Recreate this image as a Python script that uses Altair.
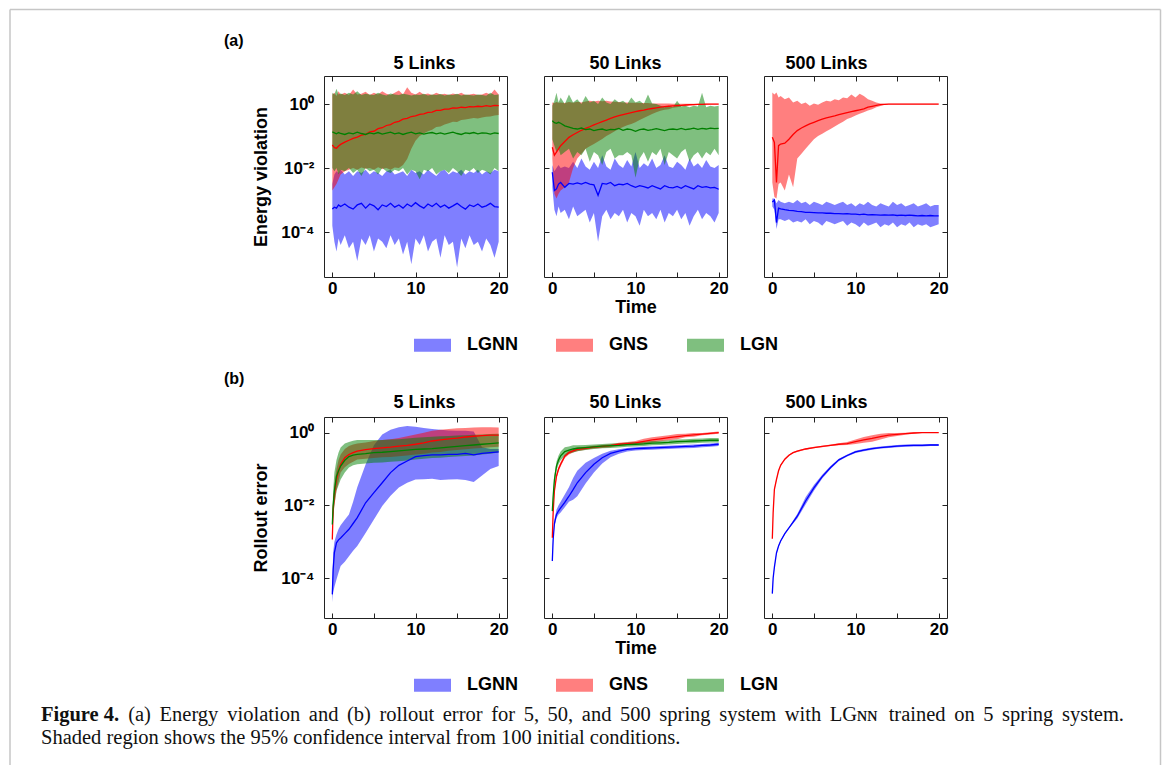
import altair as alt
import pandas as pd

FONT = "Liberation Sans"
SERIF = "Liberation Serif"
AX = "#222222"
FRAME = "#c6c6c6"
MODELS = ["LGNN", "GNS", "LGN"]
COL = {"LGNN": "#0000ff", "GNS": "#ff0000", "LGN": "#008000"}
PANEL_TITLES = ["5 Links", "50 Links", "500 Links"]
TITLE_DX = [9, -10, -29]
X_TICKS = [0, 5, 10, 15, 20]
Y_TICKS = [1, 0.01, 0.0001]
LEGEND_SYMBOL = "M-1,-0.35H1V0.35H-1Z"
W, H, GAP, ROWGAP, TICK = 183, 201, 37, 140, 5
TOP_YDOM = [10 ** -5.4, 10 ** 0.875]
BOT_YDOM = [10 ** -5.1, 10 ** 0.43]

# ---------------- time grids ----------------
T_TOP = [0, 0.25, 0.5, 0.75, 1, 1.5, 2, 2.5, 3, 3.5, 4, 4.5, 5, 5.5, 6, 6.5, 7, 7.5,
         8, 8.5, 9, 9.5, 10, 10.5, 11, 11.5, 12, 12.5, 13, 13.5, 14, 14.5, 15, 15.5,
         16, 16.5, 17, 17.5, 18, 18.5, 19, 19.5, 20]
T_BOT = [0, 0.1, 0.25, 0.5, 0.75, 1, 1.5, 2, 2.5, 3, 4, 5, 6, 7, 8, 9, 10, 11, 12,
         13, 14, 15, 16, 17, 18, 19, 20]

# ---------------- (a) energy violation, log10 values ----------------
A1_LGNN_LO = [-3.8, -4.3, -4.6, -4.2, -4.4,
              -4.1, -4.5, -4.3, -4.9, -4.2, -4.4,
              -4.1, -4.6, -4.2, -4.3, -4.5, -4.1,
              -4.4, -4.2, -4.7, -4.3, -5.0, -4.2,
              -4.4, -4.1, -4.6, -4.3, -4.2, -4.8,
              -4.1, -4.4, -4.3, -5.1, -4.2, -4.5,
              -4.1, -4.4, -4.3, -4.6, -4.2, -4.4,
              -4.8, -4.3]
A1_LGNN_MID = [-3.28, -3.22, -3.25, -3.15, -3.2,
               -3.12, -3.22, -3.28, -3.15, -3.1, -3.25,
               -3.12, -3.18, -3.3, -3.15, -3.2, -3.1,
               -3.22, -3.15, -3.25, -3.12, -3.2, -3.08,
               -3.18, -3.25, -3.12, -3.2, -3.1, -3.22,
               -3.15, -3.25, -3.18, -3.1, -3.2, -3.28,
               -3.15, -3.2, -3.12, -3.22, -3.18, -3.1,
               -3.2, -3.22]
A1_LGNN_HI = [-2.5, -2.2, -2.1, -2.15, -2.05,
              -2.2, -2.1, -2.25, -2.1, -2.15, -2.05,
              -2.2, -2.1, -2.15, -2.25, -2.1, -2.05,
              -2.2, -2.15, -2.1, -2.25, -2.05, -2.15,
              -2.1, -2.2, -2.05, -2.15, -2.25, -2.1,
              -2.05, -2.2, -2.1, -2.15, -2.05, -2.2,
              -2.1, -2.15, -2.05, -2.2, -2.1, -2.15,
              -2.05, -2.1]
A1_GNS_LO = [-2.7, -2.6, -2.5, -2.35, -2.2,
             -2.1, -2.05, -2.0, -2.05, -1.98, -2.02,
             -2.0, -2.05, -1.97, -2.03, -2.0, -2.05,
             -1.98, -2.0, -1.9, -1.72, -1.4, -1.15,
             -1.0, -0.92, -0.85, -0.8, -0.72, -0.7,
             -0.64, -0.6, -0.55, -0.56, -0.5, -0.48,
             -0.46, -0.44, -0.45, -0.42, -0.4, -0.39,
             -0.36, -0.34]
A1_GNS_MID = [-1.28, -1.36, -1.38, -1.31, -1.26,
              -1.19, -1.13, -1.07, -1.03, -0.97, -0.95,
              -0.87, -0.85, -0.77, -0.74, -0.67, -0.64,
              -0.57, -0.54, -0.47, -0.45, -0.39, -0.37,
              -0.32, -0.31, -0.26, -0.25, -0.2, -0.2,
              -0.16, -0.16, -0.12, -0.13, -0.1, -0.11,
              -0.08, -0.09, -0.07, -0.08, -0.05, -0.07,
              -0.04, -0.05]
A1_GNS_HI = [0.3, 0.35, 0.25, 0.4, 0.3,
             0.35, 0.28, 0.45, 0.3, 0.32, 0.38,
             0.28, 0.35, 0.3, 0.4, 0.32, 0.28,
             0.35, 0.42, 0.3, 0.52, 0.35, 0.3,
             0.38, 0.3, 0.33, 0.28, 0.35, 0.3,
             0.32, 0.28, 0.33, 0.3, 0.35, 0.28,
             0.3, 0.32, 0.28, 0.3, 0.35, 0.3,
             0.45, 0.3]
A1_LGN_LO = [-2.0, -2.1, -2.0, -2.2, -2.05,
             -2.1, -2.0, -2.15, -2.05, -2.25, -2.0,
             -2.1, -2.05, -2.2, -2.0, -2.1, -2.15,
             -2.05, -2.1, -2.0, -2.2, -2.05, -2.1,
             -2.35, -2.05, -2.1, -2.0, -2.2, -2.1,
             -2.05, -2.15, -2.0, -2.1, -2.25, -2.05,
             -2.1, -2.0, -2.15, -2.05, -2.1, -2.2,
             -2.0, -2.1]
A1_LGN_MID = [-0.87, -0.9, -0.93, -0.89, -0.92,
              -0.95, -0.9, -0.93, -0.88, -0.92, -0.95,
              -0.9, -0.93, -0.89, -0.94, -0.91, -0.88,
              -0.93, -0.9, -0.95, -0.91, -0.88, -0.93,
              -0.9, -0.94, -0.91, -0.89, -0.93, -0.9,
              -0.94, -0.91, -0.88, -0.92, -0.95, -0.9,
              -0.92, -0.89, -0.93, -0.9, -0.91, -0.94,
              -0.9, -0.92]
A1_LGN_HI = [0.35, 0.3, 0.48, 0.3, 0.33,
             0.28, 0.35, 0.3, 0.4, 0.28, 0.32,
             0.3, 0.28, 0.35, 0.3, 0.27, 0.33,
             0.3, 0.28, 0.32, 0.3, 0.27, 0.3,
             0.28, 0.32, 0.27, 0.3, 0.28, 0.31,
             0.27, 0.3, 0.28, 0.32, 0.27, 0.3,
             0.28, 0.27, 0.3, 0.28, 0.26, 0.35,
             0.28, 0.3]

A2_LGNN_LO = [-2.6, -3.3, -3.5, -3.2, -3.4,
              -3.3, -3.6, -3.2, -3.5, -3.4, -3.3,
              -3.7, -3.4, -4.3, -3.5, -3.3, -3.6,
              -3.4, -3.5, -3.3, -3.7, -3.4, -3.5,
              -3.8, -3.3, -3.5, -3.4, -3.6, -3.3,
              -3.7, -3.4, -3.5, -3.3, -3.6, -3.4,
              -3.8, -3.5, -3.3, -3.6, -3.4, -3.5,
              -3.7, -3.4]
A2_LGNN_MID = [-2.13, -2.7, -2.65, -2.5, -2.45,
               -2.6, -2.48, -2.5, -2.46, -2.5, -2.45,
               -2.5, -2.52, -2.85, -2.48, -2.5, -2.45,
               -2.55, -2.5, -2.52, -2.48, -2.55, -2.6,
               -2.55, -2.58, -2.62, -2.55, -2.6, -2.65,
               -2.55, -2.6, -2.62, -2.57, -2.63, -2.55,
               -2.6, -2.65, -2.55, -2.6, -2.58, -2.62,
               -2.6, -2.66]
A2_LGNN_HI = [-1.9, -2.1, -2.0, -1.9, -2.0,
              -1.95, -2.0, -1.8, -2.0, -1.7, -1.95,
              -2.05, -1.8, -2.0, -1.6, -1.95, -2.05,
              -1.7, -1.9, -2.0, -1.75, -1.95, -1.5,
              -2.0, -1.85, -1.95, -1.7, -2.0, -1.9,
              -1.6, -1.95, -2.0, -1.8, -1.9, -2.05,
              -1.7, -1.95, -1.85, -2.0, -1.75, -1.95,
              -2.0, -1.9]
A2_GNS_LO = [-1.7, -2.8, -2.95, -2.8, -2.7,
             -2.6, -2.45, -2.0, -1.7, -1.55, -1.4,
             -1.32, -1.25, -1.17, -1.09, -1.0, -0.93,
             -0.85, -0.78, -0.72, -0.66, -0.62, -0.57,
             -0.5, -0.44, -0.37, -0.31, -0.26, -0.21,
             -0.18, -0.16, -0.12, -0.1, -0.08, -0.07,
             -0.05, -0.04, -0.03, -0.02, -0.02, -0.01,
             -0.01, -0.01]
A2_GNS_MID = [-1.35, -1.6, -1.5, -1.4, -1.3,
              -1.17, -1.04, -0.96, -0.89, -0.82, -0.76,
              -0.71, -0.65, -0.6, -0.55, -0.5, -0.45,
              -0.4, -0.36, -0.33, -0.3, -0.27, -0.24,
              -0.21, -0.19, -0.16, -0.14, -0.12, -0.1,
              -0.08, -0.07, -0.06, -0.05, -0.04, -0.03,
              -0.02, -0.02, -0.01, -0.01, 0.0, 0.0,
              0.0, 0.0]
A2_GNS_HI = [0.05, 0.03, 0.06, 0.04, 0.05,
             0.03, 0.06, 0.04, 0.07, 0.05, 0.08,
             0.1, 0.08, 0.1, 0.09, 0.1, 0.08,
             0.07, 0.06, 0.05, 0.05, 0.04, 0.04,
             0.03, 0.03, 0.03, 0.02, 0.02, 0.02,
             0.02, 0.02, 0.01, 0.01, 0.01, 0.01,
             0.01, 0.01, 0.01, 0.01, 0.01, 0.01,
             0.01, 0.01]
A2_LGN_LO = [-1.1, -1.3, -1.5, -1.4, -1.6,
             -1.5, -1.4, -1.7, -1.5, -1.6, -1.4,
             -1.8, -1.5, -1.6, -1.9, -1.5, -1.4,
             -1.7, -1.6, -1.6, -1.5, -1.6, -2.3,
             -1.7, -1.5, -1.8, -1.5, -1.6, -1.4,
             -1.9, -1.5, -1.6, -1.7, -1.5, -1.4,
             -1.8, -1.6, -1.5, -1.7, -1.5, -1.6,
             -1.4, -1.6]
A2_LGN_MID = [-0.52, -0.58, -0.6, -0.57, -0.6,
              -0.68, -0.72, -0.76, -0.78, -0.75, -0.8,
              -0.78, -0.83, -0.8, -0.78, -0.82, -0.79,
              -0.8, -0.76, -0.82, -0.78, -0.8, -0.85,
              -0.8, -0.78, -0.82, -0.8, -0.77, -0.8,
              -0.83, -0.79, -0.78, -0.8, -0.76, -0.8,
              -0.78, -0.75, -0.79, -0.76, -0.78, -0.75,
              -0.77, -0.76]
A2_LGN_HI = [-0.05, 0.1, 0.35, 0.05, 0.2,
             0.0, 0.3, 0.05, 0.15, 0.0, 0.25,
             0.05, 0.1, 0.0, 0.2, 0.05, 0.0,
             0.15, 0.05, 0.1, 0.0, 0.2, 0.05,
             0.1, 0.0, 0.3, 0.02, 0.0, -0.05,
             -0.1, -0.05, -0.1, 0.1, -0.08, -0.05,
             -0.1, -0.05, -0.08, 0.35, -0.1, -0.05,
             -0.08, -0.05]

A3_LGNN_LO = [-3.2, -3.3, -3.9, -3.6, -3.6,
              -3.65, -3.6, -3.7, -3.65, -3.7, -3.6,
              -3.75, -3.65, -3.7, -3.8, -3.65, -3.7,
              -3.75, -3.7, -3.65, -3.8, -3.7, -3.75,
              -3.85, -3.7, -3.8, -3.75, -3.7, -3.85,
              -3.75, -3.8, -3.7, -3.85, -3.75, -3.8,
              -3.7, -3.85, -3.75, -3.8, -3.75, -3.85,
              -3.8, -3.75]
A3_LGNN_MID = [-3.06, -3.0, -3.7, -3.25, -3.27,
               -3.3, -3.32, -3.33, -3.35, -3.36, -3.38,
               -3.38, -3.39, -3.4, -3.4, -3.41, -3.41,
               -3.42, -3.42, -3.43, -3.42, -3.44, -3.44,
               -3.45, -3.44, -3.46, -3.45, -3.46, -3.47,
               -3.46, -3.47, -3.46, -3.48, -3.47, -3.48,
               -3.47, -3.48, -3.49, -3.48, -3.49, -3.48,
               -3.49, -3.49]
A3_LGNN_HI = [-2.95, -2.95, -3.1, -3.0, -3.05,
              -3.1, -3.05, -3.1, -3.0, -3.1, -3.05,
              -3.15, -3.05, -3.1, -3.15, -3.05, -3.1,
              -3.15, -3.1, -3.05, -3.15, -3.1, -3.2,
              -3.1, -3.15, -3.05, -3.15, -3.2, -3.1,
              -3.15, -3.2, -3.05, -3.15, -3.1, -3.2,
              -3.15, -3.1, -3.2, -3.15, -3.1, -3.2,
              -3.15, -3.15]
A3_GNS_LO = [-2.45, -2.9, -2.95, -2.5, -2.45,
             -2.7, -2.2, -2.6, -1.7, -1.55, -1.4,
             -1.25, -1.1, -1.0, -0.93, -0.85, -0.78,
             -0.7, -0.62, -0.55, -0.47, -0.42, -0.36,
             -0.3, -0.26, -0.2, -0.16, -0.1, -0.06,
             -0.02, -0.01, -0.01, -0.01, -0.01, -0.01,
             -0.01, -0.01, -0.01, -0.01, -0.01, -0.01,
             -0.01, -0.01]
A3_GNS_MID = [-1.04, -1.2, -2.45, -1.3, -1.25,
              -1.22, -1.1, -0.95, -0.83, -0.75, -0.68,
              -0.62, -0.57, -0.52, -0.47, -0.43, -0.4,
              -0.37, -0.33, -0.3, -0.27, -0.24, -0.21,
              -0.18, -0.15, -0.1, -0.07, -0.04, -0.02,
              -0.01, 0.0, 0.0, 0.0, 0.0, 0.0,
              0.0, 0.0, 0.0, 0.0, 0.0, 0.0,
              0.0, 0.0]
A3_GNS_HI = [0.36, 0.3, 0.36, 0.2, 0.25,
             0.15, 0.2, 0.05, 0.1, 0.0, 0.05,
             -0.05, 0.02, -0.02, 0.05, 0.1, 0.08,
             0.15, 0.12, 0.2, 0.18, 0.3, 0.2,
             0.32, 0.25, 0.15, 0.1, 0.05, 0.02,
             0.01, 0.01, 0.01, 0.01, 0.01, 0.01,
             0.01, 0.01, 0.01, 0.01, 0.01, 0.01,
             0.01, 0.01]

# ---------------- (b) rollout error, log10 values ----------------
B1_LGNN_LO = [-4.67, -4.4, -4.25, -4.04, -3.85, -3.67, -3.55, -3.4, -3.25, -3.12,
              -2.76, -2.39, -2.02, -1.74, -1.51, -1.38, -1.29,
              -1.28, -1.27, -1.3, -1.29, -1.28, -1.3, -1.36, -1.18, -1.0, -0.92]
B1_LGNN_MID = [-4.45, -3.76, -3.3, -3.03, -2.95, -2.9, -2.78, -2.66, -2.5, -2.34,
               -1.93, -1.65, -1.38, -1.1, -0.9, -0.78, -0.66,
               -0.63, -0.61, -0.61, -0.6, -0.6, -0.57, -0.61, -0.57, -0.55, -0.53]
B1_LGNN_HI = [-4.2, -3.3, -3.0, -2.8, -2.65, -2.55, -2.4, -2.25, -1.9, -1.5,
              -0.88, -0.35, -0.05, 0.08, 0.15, 0.18, 0.16,
              0.13, 0.1, 0.08, 0.06, 0.05, 0.05, 0.03, -0.4, -0.45, -0.45]
B1_GNS_LO = [-3.05, -2.4, -2.0, -1.6, -1.35, -1.1, -0.95, -0.86, -0.8, -0.74,
             -0.72, -0.7, -0.68, -0.67, -0.65, -0.63, -0.6,
             -0.58, -0.55, -0.53, -0.5, -0.48, -0.46, -0.44, -0.42, -0.4, -0.39]
B1_GNS_MID = [-2.94, -2.11, -1.7, -1.29, -1.05, -0.87, -0.69, -0.6, -0.55, -0.51,
              -0.47, -0.44, -0.42, -0.4, -0.37, -0.35, -0.32,
              -0.28, -0.23, -0.2, -0.17, -0.15, -0.12, -0.1, -0.08, -0.07, -0.07]
B1_GNS_HI = [-2.85, -1.9, -1.45, -1.0, -0.75, -0.6, -0.45, -0.37, -0.33, -0.3,
             -0.27, -0.23, -0.2, -0.18, -0.15, -0.1, -0.05,
             0.0, 0.05, 0.08, 0.1, 0.12, 0.13, 0.14, 0.15, 0.15, 0.14]
B1_LGN_LO = [-2.6, -2.3, -2.0, -1.6, -1.45, -1.29, -1.1, -0.96, -0.9, -0.87,
             -0.85, -0.83, -0.82, -0.8, -0.79, -0.77, -0.74,
             -0.72, -0.7, -0.69, -0.67, -0.66, -0.64, -0.63, -0.6, -0.58, -0.55]
B1_LGN_MID = [-2.53, -2.0, -1.6, -1.2, -1.05, -0.92, -0.76, -0.66, -0.62, -0.6,
              -0.58, -0.55, -0.54, -0.52, -0.5, -0.48, -0.46,
              -0.45, -0.44, -0.42, -0.4, -0.38, -0.36, -0.34, -0.32, -0.3, -0.28]
B1_LGN_HI = [-2.3, -1.6, -1.1, -0.75, -0.55, -0.41, -0.3, -0.26, -0.22, -0.2,
             -0.2, -0.2, -0.2, -0.19, -0.18, -0.16, -0.14,
             -0.13, -0.11, -0.1, -0.09, -0.08, -0.07, -0.06, -0.05, -0.04, -0.03]

B2_LGNN_LO = [-3.6, -3.0, -2.6, -2.35, -2.25, -2.2, -2.05, -1.9, -1.85, -1.75,
              -1.4, -1.1, -0.85, -0.68, -0.58, -0.52, -0.49,
              -0.48, -0.47, -0.46, -0.45, -0.44, -0.43, -0.42, -0.4, -0.39, -0.37]
B2_LGNN_MID = [-3.53, -2.94, -2.5, -2.25, -2.15, -2.07, -1.92, -1.75, -1.57, -1.38,
               -1.1, -0.87, -0.69, -0.57, -0.51, -0.46, -0.44,
               -0.43, -0.42, -0.41, -0.4, -0.39, -0.38, -0.37, -0.35, -0.34, -0.32]
B2_LGNN_HI = [-3.45, -2.85, -2.4, -2.12, -2.0, -1.9, -1.7, -1.5, -1.25, -1.05,
              -0.83, -0.7, -0.58, -0.5, -0.46, -0.42, -0.4,
              -0.39, -0.38, -0.37, -0.36, -0.35, -0.34, -0.33, -0.31, -0.3, -0.28]
B2_GNS_MID = [-2.89, -2.2, -1.6, -1.2, -1.0, -0.87, -0.65, -0.55, -0.5, -0.46,
              -0.43, -0.4, -0.38, -0.36, -0.32, -0.3, -0.28,
              -0.24, -0.2, -0.17, -0.14, -0.11, -0.08, -0.06, -0.04, -0.02, 0.0]
B2_GNS_W = [0.03, 0.06, 0.06, 0.06, 0.06, 0.06, 0.05, 0.05, 0.05, 0.05,
            0.04, 0.04, 0.04, 0.04, 0.04, 0.04, 0.05,
            0.07, 0.07, 0.07, 0.07, 0.07, 0.05, 0.05, 0.03, 0.03, 0.03]
B2_LGN_MID = [-2.16, -1.75, -1.3, -0.92, -0.75, -0.64, -0.52, -0.48, -0.45, -0.43,
              -0.41, -0.39, -0.37, -0.36, -0.35, -0.33, -0.32,
              -0.31, -0.29, -0.28, -0.27, -0.25, -0.24, -0.23, -0.22, -0.21, -0.21]
B2_LGN_W = [0.04, 0.1, 0.12, 0.12, 0.12, 0.12, 0.12, 0.1, 0.1, 0.08,
            0.07, 0.06, 0.06, 0.06, 0.06, 0.06, 0.06,
            0.06, 0.06, 0.06, 0.06, 0.06, 0.06, 0.06, 0.06, 0.06, 0.06]

B3_LGNN_MID = [-4.43, -4.0, -3.7, -3.31, -3.12, -2.98, -2.78, -2.62, -2.46, -2.3,
               -1.88, -1.52, -1.21, -0.96, -0.75, -0.63, -0.53,
               -0.48, -0.44, -0.41, -0.39, -0.37, -0.36, -0.35, -0.35, -0.34, -0.34]
B3_LGNN_W = [0.02, 0.02, 0.02, 0.02, 0.02, 0.02, 0.02, 0.02, 0.04, 0.06,
             0.1, 0.08, 0.05, 0.04, 0.03, 0.03, 0.03,
             0.03, 0.03, 0.03, 0.03, 0.03, 0.03, 0.03, 0.03, 0.03, 0.03]
B3_GNS_MID = [-2.92, -2.2, -1.56, -1.29, -1.05, -0.9, -0.73, -0.62, -0.55, -0.51,
              -0.45, -0.41, -0.38, -0.35, -0.32, -0.3, -0.25,
              -0.2, -0.16, -0.11, -0.07, -0.05, -0.03, -0.01, 0.0, 0.0, 0.0]
B3_GNS_W = [0.02, 0.02, 0.02, 0.02, 0.02, 0.02, 0.02, 0.02, 0.02, 0.02,
            0.02, 0.02, 0.02, 0.02, 0.03, 0.04, 0.06,
            0.08, 0.09, 0.08, 0.06, 0.04, 0.03, 0.02, 0.01, 0.01, 0.01]

# ---------------- caption ----------------
CAPTION_BOLD = "Figure 4."
CAPTION_1 = ("(a) Energy violation and (b) rollout error for 5, 50, and 500 spring system "
             "with LG\u0274\u0274 trained on 5 spring system.")
CAPTION_2 = "Shaded region shows the 95% confidence interval from 100 initial conditions."
CAP_X0, CAP_X1, CAP_Y1, CAP_Y2, CAP_SIZE = 40, 1123, 715.5, 738.5, 20.5

# Times-compatible advance widths (per 1000 em) used to justify caption line 1
SERIF_W = {" ": 250, "(": 333, ")": 333, ",": 250, ".": 250, "%": 833,
           "a": 444, "b": 500, "c": 444, "d": 500, "e": 444, "f": 333, "g": 500,
           "h": 500, "i": 278, "l": 278, "m": 778, "n": 500, "o": 500, "p": 500,
           "r": 333, "s": 389, "t": 278, "u": 500, "v": 500, "w": 722, "y": 500,
           "E": 611, "G": 722, "L": 611, "S": 556, "\u0274": 560}
SERIF_BOLD_W = {" ": 250, ".": 250, "F": 611, "i": 278, "g": 500, "u": 556, "r": 444, "e": 444}


def text_w(s, table):
    return sum(table.get(c, 500) for c in s) / 1000.0 * CAP_SIZE


def sym(mid, w):
    return ([m - d for m, d in zip(mid, w)], mid, [m + d for m, d in zip(mid, w)])


def build(t, series):
    rows = []
    for model, (lo, mid, hi) in series.items():
        assert len(lo) == len(mid) == len(hi) == len(t), (model, len(lo), len(mid), len(hi), len(t))
        for ti, a, b, c in zip(t, lo, mid, hi):
            rows.append({"t": ti, "model": model, "lo": 10 ** a, "mid": 10 ** b, "hi": 10 ** c})
    return pd.DataFrame(rows)


DF_A = [
    build(T_TOP, {"LGNN": (A1_LGNN_LO, A1_LGNN_MID, A1_LGNN_HI),
                  "GNS": (A1_GNS_LO, A1_GNS_MID, A1_GNS_HI),
                  "LGN": (A1_LGN_LO, A1_LGN_MID, A1_LGN_HI)}),
    build(T_TOP, {"LGNN": (A2_LGNN_LO, A2_LGNN_MID, A2_LGNN_HI),
                  "GNS": (A2_GNS_LO, A2_GNS_MID, A2_GNS_HI),
                  "LGN": (A2_LGN_LO, A2_LGN_MID, A2_LGN_HI)}),
    build(T_TOP, {"LGNN": (A3_LGNN_LO, A3_LGNN_MID, A3_LGNN_HI),
                  "GNS": (A3_GNS_LO, A3_GNS_MID, A3_GNS_HI)}),
]
DF_B = [
    build(T_BOT, {"LGNN": (B1_LGNN_LO, B1_LGNN_MID, B1_LGNN_HI),
                  "GNS": (B1_GNS_LO, B1_GNS_MID, B1_GNS_HI),
                  "LGN": (B1_LGN_LO, B1_LGN_MID, B1_LGN_HI)}),
    build(T_BOT, {"LGNN": (B2_LGNN_LO, B2_LGNN_MID, B2_LGNN_HI),
                  "GNS": sym(B2_GNS_MID, B2_GNS_W),
                  "LGN": sym(B2_LGN_MID, B2_LGN_W)}),
    build(T_BOT, {"LGNN": sym(B3_LGNN_MID, B3_LGNN_W),
                  "GNS": sym(B3_GNS_MID, B3_GNS_W)}),
]
MODELS_A = [["LGNN", "GNS", "LGN"], ["LGNN", "GNS", "LGN"], ["LGNN", "GNS"]]
MODELS_B = [["LGNN", "GNS", "LGN"], ["LGNN", "GNS", "LGN"], ["LGNN", "GNS"]]

YLAB = ("datum.value > 0.5 ? '10\u2070' : (datum.value > 0.001 ? '10\u207b\u00b2' : '10\u207b\u2074')")
XLAB = "datum.value % 10 === 0 ? datum.label : ''"

LEG_DF = pd.DataFrame({"model": MODELS})
ONE = pd.DataFrame({"k": [0]})


def text_layer(s, x, y, font=FONT, size=18, bold=True, align="left", baseline="middle",
               color="black"):
    return alt.Chart(pd.DataFrame({"s": [s]})).mark_text(
        font=font, fontSize=size, fontWeight="bold" if bold else "normal",
        align=align, baseline=baseline, color=color
    ).encode(text="s:N", x=alt.value(x), y=alt.value(y))


def legend_layer(lx, ly):
    return alt.Chart(LEG_DF).transform_filter("false").mark_point(
        filled=True, shape=LEGEND_SYMBOL, size=1369
    ).encode(
        color=alt.Color("model:N",
                        scale=alt.Scale(domain=MODELS, range=[COL[m] for m in MODELS]),
                        legend=alt.Legend(orient="none", legendX=lx, legendY=ly,
                                          direction="horizontal", title=None,
                                          symbolType=LEGEND_SYMBOL, symbolSize=1369,
                                          symbolOpacity=0.5, symbolStrokeWidth=0,
                                          labelFont=FONT, labelFontSize=18,
                                          labelFontWeight="bold", labelColor="black",
                                          labelOffset=16, columnPadding=38, padding=0))
    )


def caption_layers(ox, oy):
    """Caption (line 1 justified word by word) and the outer frame, relative to panel origin."""
    words = [CAPTION_BOLD] + CAPTION_1.split(" ")
    widths = [text_w(CAPTION_BOLD, SERIF_BOLD_W)] + [text_w(w, SERIF_W) for w in words[1:]]
    space = 0.25 * CAP_SIZE
    natural = sum(widths) + space * (len(words) - 1)
    gap = space + (CAP_X1 - CAP_X0 - natural) / (len(words) - 1)
    out = []
    x = CAP_X0
    for i, (w, wd) in enumerate(zip(words, widths)):
        out.append(text_layer(w, x - ox, CAP_Y1 - oy, font=SERIF, size=CAP_SIZE, bold=(i == 0),
                              color="#111111"))
        x += wd + gap
    out.append(text_layer(CAPTION_2, CAP_X0 - ox, CAP_Y2 - oy, font=SERIF, size=CAP_SIZE,
                          bold=False, color="#111111"))
    # outer frame; it is the outermost element, so it fixes where the chart sits on the page
    left, top, right, bottom = 9, 10.5, 1159.5, 766
    out.append(alt.Chart(ONE).mark_rule(color=FRAME, strokeWidth=1.5).encode(
        x=alt.value(left - ox), y=alt.value(top - oy), y2=alt.value(bottom - oy)))
    out.append(alt.Chart(ONE).mark_rule(color=FRAME, strokeWidth=1.5).encode(
        x=alt.value(left - ox), x2=alt.value(right - ox), y=alt.value(top - oy)))
    out.append(alt.Chart(ONE).mark_rule(color=FRAME, strokeWidth=1.5).encode(
        x=alt.value(right - ox), y=alt.value(top - oy), y2=alt.value(bottom - oy)))
    return out


def panel(df, models, ydom, idx, title_base, ytitle=None, extra=()):
    xs = alt.Scale(domain=[-1, 21], nice=False, zero=False)
    ys = alt.Scale(type="log", domain=ydom, nice=False)
    tk = dict(tickSize=TICK, offset=-TICK, domain=False, grid=False, tickColor=AX, tickWidth=1)
    bottom = alt.Axis(orient="bottom", values=X_TICKS, labelExpr=XLAB, labelPadding=3,
                      labelFont=FONT, labelFontSize=17, labelFontWeight="bold", labelColor="black",
                      labelFlush=False, labelOverlap=False,
                      title="Time" if idx == 1 else None, titleFont=FONT, titleFontSize=18,
                      titleFontWeight="bold", titleColor="black", titlePadding=2, **tk)
    if ytitle:
        left = alt.Axis(orient="left", values=Y_TICKS, labelExpr=YLAB, labelPadding=10,
                        labelFont=FONT, labelFontSize=17, labelFontWeight="bold", labelColor="black",
                        labelOverlap=False, title=ytitle, titleFont=FONT, titleFontSize=18,
                        titleFontWeight="bold", titleColor="black", titlePadding=10, **tk)
    else:
        left = alt.Axis(orient="left", values=Y_TICKS, labels=False, title=None, **tk)
    right = alt.Axis(orient="right", values=Y_TICKS, labels=False, title=None, **tk)
    top = alt.Axis(orient="top", values=X_TICKS, labels=False, title=None, **tk)

    layers = []
    for i, m in enumerate(models):
        layers.append(
            alt.Chart(df).transform_filter(alt.datum.model == m)
            .mark_area(color=COL[m], opacity=0.5, clip=True)
            .encode(x=alt.X("t:Q", scale=xs, axis=bottom if i == 0 else None),
                    y=alt.Y("lo:Q", scale=ys, axis=left if i == 0 else None),
                    y2="hi:Q"))
    for i, m in enumerate(models):
        last = i == len(models) - 1
        layers.append(
            alt.Chart(df).transform_filter(alt.datum.model == m)
            .mark_line(color=COL[m], strokeWidth=1.3, clip=True)
            .encode(x=alt.X("t:Q", scale=xs, axis=top if last else None),
                    y=alt.Y("mid:Q", scale=ys, axis=right if last else None)))
    # panel title (drawn as text so that it does not follow the group bounds)
    layers.append(text_layer(PANEL_TITLES[idx], W / 2 + TITLE_DX[idx], title_base,
                             align="center", baseline="alphabetic"))
    layers.extend(extra)
    return alt.layer(*layers).resolve_axis(x="independent", y="independent").properties(
        width=W, height=H)


# page positions of the panel origins used for the legends / caption
A1_X, A_Y = 323, 77
A2_X = A1_X + W + GAP
B_Y = A_Y + H + ROWGAP

panels = [
    panel(DF_A[0], MODELS_A[0], TOP_YDOM, 0, -7.5, ytitle="Energy violation",
          extra=[text_layer("(a)", -100, 42 - A_Y, size=16)]),
    panel(DF_A[1], MODELS_A[1], TOP_YDOM, 1, -7.5,
          extra=[legend_layer(413 - A2_X, 343 - 15.5 - A_Y)]),
    panel(DF_A[2], MODELS_A[2], TOP_YDOM, 2, -7.5),
    panel(DF_B[0], MODELS_B[0], BOT_YDOM, 0, -9, ytitle="Rollout error",
          extra=[text_layer("(b)", -100, 380 - B_Y, size=16)] + caption_layers(A1_X, B_Y)),
    panel(DF_B[1], MODELS_B[1], BOT_YDOM, 1, -9,
          extra=[legend_layer(413 - A2_X, 683 - 15.5 - B_Y)]),
    panel(DF_B[2], MODELS_B[2], BOT_YDOM, 2, -9),
]

chart = alt.concat(
    *panels, columns=3, spacing={"row": ROWGAP, "column": GAP}, bounds="flush"
).resolve_scale(color="independent").properties(padding=0).configure(
    font=FONT
).configure_view(stroke=AX, strokeWidth=1)

chart.save("out.html", embed_options={"renderer": "svg", "actions": False})
